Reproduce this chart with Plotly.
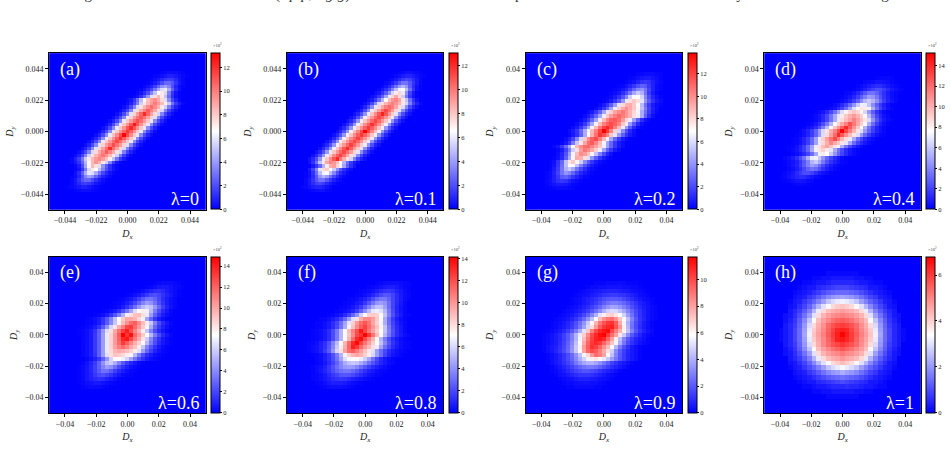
import numpy as np
import plotly.graph_objects as go

# Each panel: rows listed top to bottom, centred on the middle row of the grid.
# A row is [first column, value, value, ...]; values are in tenths of 10^2 and
# columns not listed are empty.
ROWS_A = [
 [32,1,2,3,3,3,2,1],
 [30,1,2,4,6,8,8,6,4,2,1],
 [29,1,3,6,10,14,16,15,10,5,2],
 [28,1,3,7,12,19,26,27,22,13,6,2],
 [27,2,5,9,16,26,37,42,34,20,9,3,1],
 [26,2,5,10,18,30,44,57,60,44,25,11,4],
 [25,2,5,11,20,34,50,66,72,56,32,14,5,1],
 [24,2,5,12,23,38,58,74,84,72,50,28,12,4,1],
 [22,2,6,14,28,48,68,82,90,96,88,76,58,36,18,8,2],
 [22,3,8,17,32,54,72,84,92,100,92,84,70,52,30,15,7,2],
 [21,3,8,18,34,56,74,86,96,104,96,86,72,54,32,17,8,3],
 [20,3,9,18,34,58,76,88,98,108,98,88,74,56,33,17,8,3],
 [19,3,9,19,35,58,78,92,106,122,106,90,76,56,34,18,8,3],
 [18,3,9,19,35,60,78,92,102,110,102,90,78,58,35,18,8,3],
 [17,3,9,19,36,60,80,92,104,112,104,92,80,60,36,19,9,3],
 [16,3,9,19,36,60,80,94,110,126,110,94,80,60,36,19,9,3],
 [15,3,9,19,36,60,80,94,110,122,110,94,80,60,36,19,9,3],
 [14,3,9,19,36,60,80,94,106,118,108,94,80,60,36,19,9,3],
 [13,3,9,19,36,60,82,96,112,132,112,96,80,60,36,19,9,3],
 [12,3,9,19,36,60,80,94,108,120,108,94,80,60,36,19,9,3],
 [11,3,9,19,36,60,80,92,104,114,104,92,80,60,36,19,9,3],
 [10,3,9,19,35,58,78,92,102,112,102,92,78,58,35,18,8,3],
 [9,3,9,18,35,58,78,90,104,122,104,90,76,56,34,18,8,3],
 [8,3,8,18,34,56,76,88,98,108,98,88,74,56,33,17,8,3],
 [7,3,8,17,33,54,74,86,94,102,94,84,72,54,32,16,7,2],
 [6,2,8,16,31,52,72,84,92,98,92,82,70,50,30,15,7,2],
 [6,2,6,13,26,46,68,84,94,86,72,54,34,16,6,2],
 [7,2,7,20,42,68,84,74,58,38,23,12,5,2],
 [7,1,5,14,32,56,72,66,50,34,20,11,5,2],
 [7,4,11,25,44,60,57,44,30,18,10,5,2],
 [6,1,3,9,20,34,42,37,26,16,9,5,2],
 [6,2,6,13,22,27,26,19,12,7,3,1],
 [6,2,5,10,15,16,14,10,6,3,1],
 [5,1,2,4,6,8,8,6,4,2,1],
 [7,1,2,3,3,3,2,1],
]
ROWS_B = [
 [32,1,2,4,4,3,2,1],
 [31,2,4,7,9,9,7,4,2,1],
 [29,1,3,6,10,15,18,16,11,6,2],
 [28,2,4,8,14,22,29,29,22,13,6,2],
 [27,2,5,10,18,28,40,46,38,23,11,4,1],
 [26,2,6,12,20,33,48,62,64,48,28,13,4,1],
 [25,3,6,13,23,37,54,70,76,60,36,17,6,1],
 [24,3,7,14,25,41,60,76,88,74,52,30,14,5,1],
 [23,3,7,15,28,46,66,82,92,96,88,72,50,28,13,4],
 [22,3,8,18,34,56,74,84,92,98,92,84,72,54,33,17,8,3],
 [21,3,9,19,35,58,76,88,98,104,98,88,74,56,35,18,9,3],
 [20,3,9,19,36,60,78,90,102,112,102,90,76,58,36,19,9,3],
 [19,4,9,20,37,60,80,94,108,122,108,92,78,58,36,19,9,4],
 [18,4,9,20,37,61,80,92,104,112,104,92,80,60,37,20,10,4],
 [17,4,10,20,38,61,80,92,104,112,104,92,80,60,37,20,10,4],
 [16,4,10,20,38,61,80,94,106,118,106,94,80,61,38,20,10,4],
 [15,4,10,21,38,61,80,94,106,116,106,94,80,61,38,21,10,4],
 [14,4,10,21,38,62,82,96,112,130,112,96,82,62,38,21,10,4],
 [13,4,10,21,38,61,80,94,106,116,106,94,80,61,38,21,10,4],
 [12,4,10,21,38,61,80,94,104,114,104,92,80,60,38,20,10,4],
 [11,4,10,21,38,61,80,92,104,112,104,92,78,60,37,20,10,4],
 [10,4,10,21,38,61,80,92,104,114,104,92,78,60,37,20,9,4],
 [9,4,10,21,38,61,80,94,108,120,106,90,78,58,36,19,9,3],
 [8,4,10,21,38,60,80,92,104,112,102,90,76,58,36,19,9,3],
 [7,4,10,21,38,60,80,94,106,114,102,88,74,56,35,18,8,3],
 [6,4,10,20,37,60,80,94,108,120,100,86,72,54,33,17,8,3],
 [6,4,13,28,50,72,88,96,92,82,66,46,28,15,7,3],
 [7,6,14,26,46,70,86,90,76,62,42,24,12,5],
 [6,6,17,34,58,74,78,66,52,36,22,12,6,3],
 [5,1,4,13,28,48,62,64,48,34,20,11,6,2],
 [5,1,4,11,23,38,46,40,28,18,10,5,2],
 [5,2,6,13,22,29,29,22,14,8,4,2],
 [5,2,6,11,16,18,15,10,6,3,1],
 [4,1,2,4,7,9,9,7,4,2],
 [6,1,2,3,4,4,2,1],
]
ROWS_C = [
 [29,1,2,3,3,3,2,1],
 [27,1,2,4,6,7,7,5,3,1],
 [26,1,3,5,9,13,15,13,8,4,2],
 [24,1,2,5,9,14,21,26,24,15,8,3,1],
 [23,1,3,6,10,17,27,36,40,31,18,9,3,1],
 [22,1,3,6,12,20,31,45,55,48,31,16,7,2],
 [21,1,3,7,13,22,36,56,68,70,58,36,20,10,4,1],
 [20,1,3,7,14,24,40,62,78,84,78,62,40,24,13,6,3],
 [19,3,7,14,25,42,62,80,90,92,84,70,50,30,16,7,3,1],
 [18,3,7,15,26,44,64,82,92,100,92,84,72,52,34,18,8,3],
 [16,3,7,15,26,44,62,82,94,100,106,98,90,80,66,46,30,16,7,2],
 [15,3,7,15,27,44,64,84,96,104,110,104,98,90,78,64,46,26,12,4],
 [14,3,7,15,28,44,64,88,102,112,114,108,96,80,64,44,26,12,5,2],
 [13,3,7,15,28,45,66,88,104,112,118,112,102,84,64,42,24,11,4,1],
 [12,3,7,15,28,45,66,88,106,120,128,118,104,88,64,42,24,11,4,1],
 [11,3,7,14,28,46,66,88,104,120,138,122,102,82,58,38,22,10,4],
 [11,2,6,13,26,46,68,90,108,124,116,104,84,62,42,26,14,7,3],
 [10,3,8,18,36,58,84,100,112,118,104,88,66,45,28,15,7,3],
 [9,2,6,15,32,54,76,94,108,114,102,88,66,44,28,15,7,3],
 [7,2,6,15,28,46,68,88,100,108,110,102,94,84,64,44,27,15,7,3],
 [8,2,7,18,34,56,78,96,106,100,92,82,64,44,26,15,7,3],
 [8,3,10,22,42,66,88,100,96,86,72,52,34,20,10,4],
 [7,1,4,11,25,46,72,92,90,78,60,40,25,14,7,3,1],
 [6,1,4,13,28,52,76,84,72,56,38,24,14,7,3,1],
 [6,1,5,14,30,52,70,68,52,35,22,13,7,3,1],
 [6,2,7,16,31,48,55,45,31,20,12,6,3,1],
 [5,1,3,9,18,31,40,36,27,17,10,6,3,1],
 [5,1,3,8,15,24,26,21,14,9,5,2,1],
 [5,2,4,8,13,15,13,9,5,3,1],
 [5,1,3,5,7,7,6,4,2,1],
 [6,1,2,3,3,3,2,1],
]
ROWS_D = [
 [29,1,2,2,2,1],
 [26,2,3,4,6,6,5,4,2,1],
 [24,1,3,5,8,11,13,13,10,7,4,2,1],
 [23,1,3,5,9,14,19,23,22,17,12,7,4,2,1],
 [21,2,3,6,11,17,25,33,34,29,21,14,8,4,2,1],
 [20,1,3,6,11,18,27,37,47,44,35,24,15,9,4,2],
 [19,1,3,6,11,19,29,41,54,60,54,42,29,18,10,5,2],
 [17,1,3,6,12,20,31,44,60,72,70,58,42,28,17,9,4,1],
 [16,1,3,6,12,20,32,47,66,78,84,82,72,52,34,20,11,5,2],
 [13,1,3,6,12,21,33,48,66,80,88,94,88,80,64,44,27,15,8,3,1],
 [12,1,3,6,12,21,34,50,68,82,92,100,106,98,90,78,56,36,21,11,5,2],
 [12,1,3,6,12,21,34,51,70,86,96,104,114,104,94,84,66,44,26,14,7,3,1],
 [11,1,3,7,13,22,36,54,74,90,102,114,128,116,102,90,74,52,32,18,9,4,1],
 [10,1,4,7,13,23,37,56,78,94,108,124,140,124,108,92,76,54,34,20,10,5,2],
 [9,2,5,10,18,29,46,64,84,100,114,130,152,130,114,98,84,66,46,30,18,10,5,2],
 [8,1,2,5,10,18,29,46,66,88,104,120,140,126,110,96,84,66,46,30,18,10,5,2,1],
 [7,1,2,5,10,18,30,48,70,90,104,118,130,114,98,86,70,50,32,20,11,6,3,1],
 [7,1,2,5,10,18,30,48,70,88,100,112,102,92,84,68,50,32,20,12,7,3,1],
 [6,1,2,5,10,18,30,48,70,86,96,104,94,84,72,52,34,21,12,7,3,1],
 [6,1,3,6,11,18,30,50,72,84,90,82,68,50,34,22,13,7,3,1],
 [7,2,4,7,12,20,32,50,72,82,76,60,44,30,20,12,6,3,1],
 [5,2,4,8,14,22,34,52,70,72,60,44,30,20,12,7,3,1],
 [5,1,3,5,9,16,26,38,54,60,50,36,24,15,9,5,2,1],
 [5,1,3,6,10,17,27,38,47,42,32,22,13,8,4,2,1],
 [6,2,4,8,13,21,29,34,31,23,15,9,5,2,1],
 [5,2,4,7,12,17,22,23,19,13,8,5,3,1],
 [4,1,2,5,8,11,13,12,9,6,3,2,1],
 [5,1,2,4,6,6,5,3,2],
 [7,1,2,2,2,1],
]
ROWS_E = [
 [26,1,2,3,3,3,2,1],
 [24,1,2,4,6,7,7,5,3,2,1],
 [21,1,2,4,7,10,13,14,12,8,5,3,1],
 [19,1,2,4,7,11,16,21,23,20,15,10,6,3,1],
 [17,1,2,4,7,12,18,26,33,34,29,21,13,8,4,2],
 [16,1,2,4,8,13,20,29,38,46,42,33,23,14,8,4,2],
 [15,1,2,4,8,14,22,32,44,54,60,56,44,30,18,10,5,2],
 [13,1,2,4,8,14,23,34,48,64,76,80,70,54,36,22,12,6,2],
 [11,1,2,4,8,15,24,36,52,70,84,92,94,84,68,46,28,16,8,4,1],
 [9,1,2,4,8,15,25,38,56,76,90,100,100,96,86,70,48,30,16,8,4,1],
 [9,1,2,4,8,15,26,40,58,78,94,106,118,122,108,94,80,58,38,22,12,6,2],
 [8,1,2,4,8,15,26,42,62,82,98,112,128,132,118,104,90,72,50,30,17,9,4,1],
 [7,1,2,4,8,15,27,44,64,84,100,116,130,140,126,110,96,80,58,38,22,12,6,2],
 [7,1,2,4,8,16,28,46,68,88,104,122,149,134,144,118,104,90,74,54,36,22,12,6,2],
 [8,2,4,8,16,28,46,68,88,104,120,138,142,128,112,98,82,60,40,24,14,7,3,1],
 [8,2,4,8,16,28,46,68,88,104,118,132,122,110,98,88,76,54,36,22,12,6,3,1],
 [8,2,4,8,16,28,46,68,88,102,112,118,110,100,92,80,58,38,24,14,7,3,1],
 [8,2,4,8,16,28,46,68,86,96,100,98,94,88,80,66,46,30,18,10,5,2,1],
 [8,2,4,8,15,28,46,66,84,92,90,86,80,72,54,36,22,13,8,4,2,1],
 [9,2,5,9,16,28,44,62,76,74,70,62,48,34,22,14,8,4,2,1],
 [8,2,5,10,17,28,42,56,60,50,38,26,17,11,6,3,1],
 [7,1,3,6,11,18,28,38,46,42,32,22,14,9,5,3,1],
 [7,1,3,6,11,18,26,33,32,26,18,12,8,4,2,1],
 [7,1,3,6,10,16,21,23,20,15,10,6,3,2,1],
 [7,1,3,6,9,12,14,13,9,7,4,2,1],
 [7,1,2,4,5,7,7,5,3,2,1],
 [8,1,2,3,3,3,2,1],
]
ROWS_F = [
 [22,1,2,3,4,4,4,3,2,1],
 [20,1,2,3,5,7,8,8,6,4,2,1],
 [18,1,2,3,5,8,11,14,15,13,9,6,3,1],
 [17,1,2,4,6,10,15,20,24,23,18,12,7,4,2],
 [15,1,2,3,6,9,14,21,28,33,33,27,19,12,7,3,1],
 [14,1,2,3,6,9,15,23,32,41,44,40,30,19,11,6,2],
 [13,1,2,3,6,10,16,25,36,47,54,54,44,30,18,10,5,2],
 [12,1,2,4,6,10,17,27,39,52,64,66,62,50,34,20,10,5,2],
 [10,1,2,4,6,11,18,28,41,58,72,84,86,84,72,54,36,22,12,6,2,1],
 [8,1,2,4,7,11,18,29,44,62,80,94,104,104,98,86,70,48,30,16,8,4,1],
 [7,1,2,4,7,12,19,30,46,64,84,100,112,118,110,96,84,68,48,30,18,10,5,2],
 [7,1,2,4,7,12,20,32,48,68,88,104,116,124,112,100,88,74,54,34,20,11,6,2],
 [6,1,2,4,7,12,21,33,50,70,90,106,120,136,122,108,96,84,72,54,36,22,12,6,2],
 [6,1,2,4,7,12,21,34,50,70,88,104,122,128,142,126,110,90,70,50,34,21,12,7,3,1],
 [6,1,2,4,7,12,21,34,50,72,92,112,130,138,122,106,92,72,50,34,21,12,7,3,1],
 [5,1,2,4,8,13,22,36,52,72,92,112,130,140,124,110,98,84,72,54,38,24,14,8,4,2,1],
 [5,1,3,5,9,14,24,38,56,76,94,114,134,126,112,100,90,80,66,46,30,20,12,7,4,2,1],
 [5,1,3,5,9,16,26,42,60,80,98,112,116,108,98,88,78,62,44,30,20,12,7,4,2,1],
 [6,1,2,4,8,14,22,34,50,68,84,92,96,92,84,76,60,44,30,18,10,5,3,1],
 [7,2,4,8,13,21,32,46,62,70,72,70,66,58,46,32,20,11,6,3,1],
 [7,1,3,6,11,18,27,38,48,54,56,54,48,40,31,23,16,10,6,3,2],
 [6,1,3,5,9,15,22,30,37,42,44,42,37,30,23,17,12,8,5,3,1],
 [6,1,3,6,10,15,21,27,31,33,33,29,24,18,13,9,6,3,2,1],
 [6,1,2,4,7,11,15,19,23,24,23,20,16,12,8,5,3,2,1],
 [6,1,2,4,6,9,12,14,15,14,12,9,7,5,3,2,1],
 [7,1,2,4,6,8,8,8,7,5,3,2,1],
 [8,1,2,3,4,4,4,3,2,1],
]
ROWS_G = [
 [17,1,1,1,2,2,2,2,2,1,1,1],
 [15,1,2,2,3,3,4,4,4,4,3,3,2,2,1],
 [13,1,2,3,4,5,6,7,8,8,8,7,6,5,4,3,2,1],
 [12,1,2,3,4,6,7,9,11,12,13,13,12,11,9,7,5,3,2,1],
 [11,1,2,3,5,7,9,11,14,17,19,20,20,19,16,13,10,7,5,3,2,1],
 [11,1,2,3,5,7,10,13,17,21,25,28,28,26,23,19,15,11,7,5,3,1],
 [10,1,2,3,5,7,10,14,18,23,29,34,38,37,34,29,24,18,13,9,6,4,2,1],
 [9,1,2,3,5,7,10,14,19,25,32,40,47,50,49,44,38,30,23,16,11,7,4,2,1],
 [8,1,2,3,5,8,11,16,22,30,40,52,62,68,70,64,58,48,36,26,17,11,7,4,2,1],
 [7,1,2,3,5,8,12,17,24,33,44,58,74,84,90,92,84,72,60,44,30,20,12,8,4,2,1],
 [6,1,2,3,5,8,12,18,25,34,46,60,76,90,98,104,106,96,78,56,40,27,17,11,6,3,1],
 [6,1,2,4,6,9,13,19,27,37,49,66,82,96,104,108,110,98,84,62,42,26,17,10,6,3,1],
 [5,1,2,4,6,9,14,20,28,39,52,72,88,100,108,112,114,100,88,76,62,44,30,19,12,7,4,2],
 [4,1,2,4,6,9,14,20,29,41,54,70,86,100,108,114,117,104,92,80,64,46,32,20,13,8,4,2,1],
 [4,1,2,4,6,9,14,20,29,41,56,74,90,102,110,112,108,94,80,62,44,30,20,13,8,5,3,1],
 [4,1,2,4,6,10,15,22,31,44,60,78,94,104,108,104,94,84,72,56,40,27,17,11,7,4,2,1],
 [4,1,3,5,7,11,16,23,33,46,62,82,96,106,102,94,84,74,58,42,28,18,11,6,3,1],
 [4,1,3,5,8,12,17,24,34,46,60,80,94,100,96,88,78,66,48,32,21,14,9,5,3,1],
 [5,1,3,5,8,12,17,24,33,44,56,68,82,92,88,80,60,44,30,20,13,8,5,3,1],
 [5,1,3,5,8,12,17,23,31,40,48,56,62,64,60,54,46,36,27,19,13,8,5,3,1],
 [5,1,3,5,7,11,15,20,27,33,38,41,41,38,33,27,21,15,11,7,5,3,1],
 [6,1,3,5,8,11,15,19,23,26,28,28,26,22,18,14,10,7,5,3,1],
 [6,1,2,4,6,9,12,15,17,19,19,17,15,12,9,7,5,3,1],
 [7,1,3,4,6,8,10,12,12,12,11,9,7,5,3,2,1],
 [8,1,2,3,4,6,7,7,7,6,5,4,3,2,1],
 [9,1,2,2,3,4,4,4,3,3,2,1],
 [10,1,1,2,2,2,2,2,1,1],
]
ROWS_H = [
 [13,1,1,1,1,1,1,1],
 [10,1,1,2,2,3,3,3,3,3,2,2,1,1],
 [8,1,1,2,3,3,4,5,5,5,5,5,4,3,3,2,1,1],
 [7,1,2,3,3,5,6,7,8,9,9,9,8,7,6,5,3,3,2,1],
 [6,1,2,3,4,6,8,10,12,13,14,14,14,13,12,10,8,6,4,3,2,1],
 [6,2,3,4,7,9,12,15,18,20,21,22,21,20,18,15,12,9,7,4,3,2],
 [5,1,3,4,7,10,13,17,21,26,29,31,32,31,29,26,21,17,13,10,7,4,3,1],
 [5,2,3,6,9,13,18,24,30,35,39,41,42,41,39,35,30,24,18,13,9,6,3,2],
 [5,3,5,8,12,17,24,31,39,43,45,46,47,46,45,43,39,31,24,17,12,8,5,3],
 [4,2,3,6,10,15,21,30,39,44,47,49,50,51,50,49,47,44,39,30,21,15,10,6,3,2],
 [4,2,4,7,12,18,26,35,43,47,50,53,55,56,55,53,50,47,43,35,26,18,12,7,4,2],
 [4,3,5,8,13,20,29,39,45,49,54,57,59,60,59,57,54,49,45,39,29,20,13,8,5,3],
 [3,1,3,5,9,14,21,31,41,46,50,55,59,63,64,63,59,55,50,46,41,31,21,14,9,5,3,1],
 [3,1,3,5,9,14,22,32,42,47,51,56,60,64,68,64,60,56,51,47,42,32,22,14,9,5,3,1],
 [3,1,3,5,9,14,21,31,41,46,50,55,59,64,65,63,60,55,50,46,41,31,21,14,9,5,3,1],
 [4,3,5,8,13,20,29,39,45,50,54,57,59,61,59,57,54,49,45,39,29,20,13,8,5,3],
 [4,2,4,7,12,18,26,35,43,47,50,53,55,57,55,53,50,47,43,35,26,18,12,7,4,2],
 [4,2,3,6,10,15,21,30,39,44,47,49,50,52,50,49,47,44,39,30,21,15,10,6,3,2],
 [5,3,5,8,12,17,24,31,39,43,45,46,48,46,45,43,39,31,24,17,12,8,5,3],
 [5,2,3,6,9,13,18,24,30,35,39,41,43,41,39,35,30,24,18,13,9,6,3,2],
 [5,1,3,4,7,10,13,17,21,26,29,31,33,31,29,26,21,17,13,10,7,4,3,1],
 [6,2,3,4,7,9,12,15,18,20,21,23,21,20,18,15,12,9,7,4,3,2],
 [6,1,2,3,4,6,8,10,12,13,14,15,14,13,12,10,8,6,4,3,2,1],
 [7,1,2,3,3,5,6,7,8,9,10,9,8,7,6,5,3,3,2,1],
 [8,1,1,2,3,3,4,5,5,5,6,5,5,4,3,3,2,1,1],
 [10,1,1,2,2,3,3,3,3,3,2,2,1,1],
 [13,1,1,1,1,1,1,1],
]

PANEL_ROWS = [ROWS_A, ROWS_B, ROWS_C, ROWS_D, ROWS_E, ROWS_F, ROWS_G, ROWS_H]
GRID_SIZES = [45, 45, 41, 41, 39, 39, 39, 33]
AXIS_HALF_SPANS = [0.055, 0.055, 0.05, 0.05, 0.05, 0.05, 0.05, 0.05]
AXIS_TICKS = [
    [-0.044, -0.022, 0.0, 0.022, 0.044], [-0.044, -0.022, 0.0, 0.022, 0.044],
    [-0.04, -0.02, 0.0, 0.02, 0.04], [-0.04, -0.02, 0.0, 0.02, 0.04],
    [-0.04, -0.02, 0.0, 0.02, 0.04], [-0.04, -0.02, 0.0, 0.02, 0.04],
    [-0.04, -0.02, 0.0, 0.02, 0.04], [-0.04, -0.02, 0.0, 0.02, 0.04],
]
BAR_TICKS = [list(range(0, 13, 2)), list(range(0, 13, 2)), list(range(0, 13, 2)),
             list(range(0, 15, 2)), list(range(0, 15, 2)), list(range(0, 15, 2)),
             list(range(0, 11, 2)), list(range(0, 7, 2))]
PANEL_TAGS = ["(a)", "(b)", "(c)", "(d)", "(e)", "(f)", "(g)", "(h)"]
LAMBDA_TAGS = ["λ=0", "λ=0.1", "λ=0.2", "λ=0.4", "λ=0.6", "λ=0.8", "λ=0.9", "λ=1"]
CAPTION = ("Fig. 4. The visualization result of (Δ<i>p</i>/<i>p</i>, Δ<i>g</i>/<i>g</i>) "
           "of each method on the samples of the dataset under the values by the model after training")

W, H = 951, 472
SERIF = "Times New Roman, Liberation Serif, serif"
COL_LEFT = [49.3, 287.0, 525.7, 764.4]
PANEL_SIZE = 156.4
ROW_TOP = [53.3, 256.7]
BWR = [[0, "#0000ff"], [0.5, "#ffffff"], [1, "#ff0000"]]


def expand(rows, n):
    """Fill an n x n array from rows written top to bottom."""
    z = np.zeros((n, n))
    top = n // 2 + len(rows) // 2
    for i, row in enumerate(rows):
        start, values = row[0], row[1:]
        z[top - i, start:start + len(values)] = values
    return z


def fmt(v, digits):
    text = f"{abs(v):.{digits}f}"
    return ("\u2212" + text) if v < 0 else text


fig = go.Figure()
annotations = []
layout = {}

for idx in range(8):
    n = GRID_SIZES[idx]
    span = AXIS_HALF_SPANS[idx]
    edges = np.linspace(-span, span, n + 1)
    centres = (edges[:-1] + edges[1:]) / 2
    z = expand(PANEL_ROWS[idx], n)
    suffix = "" if idx == 0 else str(idx + 1)
    left = COL_LEFT[idx % 4]
    top = ROW_TOP[idx // 4]

    fig.add_trace(go.Heatmap(x=centres, y=centres, z=z, coloraxis=f"coloraxis{suffix}",
                             xaxis=f"x{suffix}", yaxis=f"y{suffix}", hoverinfo="skip"))

    digits = 3 if idx < 2 else 2
    ticks = AXIS_TICKS[idx]
    ticktext = [fmt(t, digits) for t in ticks]
    axis = dict(range=[-span, span], tickvals=ticks, ticktext=ticktext, ticks="outside",
                ticklen=3, tickwidth=1, tickcolor="black", showline=True, linecolor="black",
                linewidth=1.2, mirror=True, showgrid=False, zeroline=False,
                tickfont=dict(family=SERIF, size=8, color="#222222"))
    layout[f"xaxis{suffix}"] = dict(
        axis, domain=[left / W, (left + PANEL_SIZE) / W],
        anchor=f"y{suffix}",
        title=dict(text="<i>D<sub>x</sub></i>", standoff=5,
                   font=dict(family=SERIF, size=10, color="#222222")))
    layout[f"yaxis{suffix}"] = dict(
        axis, domain=[1 - (top + PANEL_SIZE) / H, 1 - top / H],
        anchor=f"x{suffix}",
        title=dict(text="<i>D<sub>y</sub></i>", standoff=5,
                   font=dict(family=SERIF, size=10, color="#222222")))

    bar_left = left + PANEL_SIZE + 5.4
    layout[f"coloraxis{suffix}"] = dict(
        colorscale=BWR, cmin=0, cmax=float(z.max()),
        colorbar=dict(
            x=bar_left / W, xanchor="left", xpad=0, thickness=9.4, thicknessmode="pixels",
            y=1 - top / H, yanchor="top", ypad=0, len=PANEL_SIZE / H, lenmode="fraction",
            outlinecolor="black", outlinewidth=1, tickmode="array",
            tickvals=[t * 10 for t in BAR_TICKS[idx]], ticktext=[str(t) for t in BAR_TICKS[idx]],
            ticks="outside", ticklen=2, tickwidth=0.6, tickcolor="black",
            tickfont=dict(family=SERIF, size=6.5, color="#222222")))

    annotations.append(dict(
        x=(left + 9) / W, y=1 - (top + 16) / H, xref="paper", yref="paper",
        xanchor="left", yanchor="middle", text=PANEL_TAGS[idx], showarrow=False,
        font=dict(family=SERIF, size=18, color="white")))
    annotations.append(dict(
        x=(left + PANEL_SIZE - 5) / W, y=1 - (top + 146) / H, xref="paper", yref="paper",
        xanchor="right", yanchor="middle", text=LAMBDA_TAGS[idx], showarrow=False,
        font=dict(family=SERIF, size=18, color="white")))
    annotations.append(dict(
        x=(bar_left + 6.5) / W, y=1 - (top - 8) / H, xref="paper", yref="paper",
        xanchor="center", yanchor="middle", text="×10<sup>2</sup>", showarrow=False,
        font=dict(family=SERIF, size=4.5, color="#444444")))

annotations.append(dict(
    x=70 / W, y=1 + 6 / H, xref="paper", yref="paper", xanchor="left", yanchor="middle",
    text=CAPTION, showarrow=False, font=dict(family=SERIF, size=15, color="#333333")))

fig.update_layout(width=W, height=H, autosize=False, margin=dict(l=0, r=0, t=0, b=0),
                  paper_bgcolor="white", plot_bgcolor="#0000ff", showlegend=False,
                  annotations=annotations, **layout)
fig.write_html("out.html")
